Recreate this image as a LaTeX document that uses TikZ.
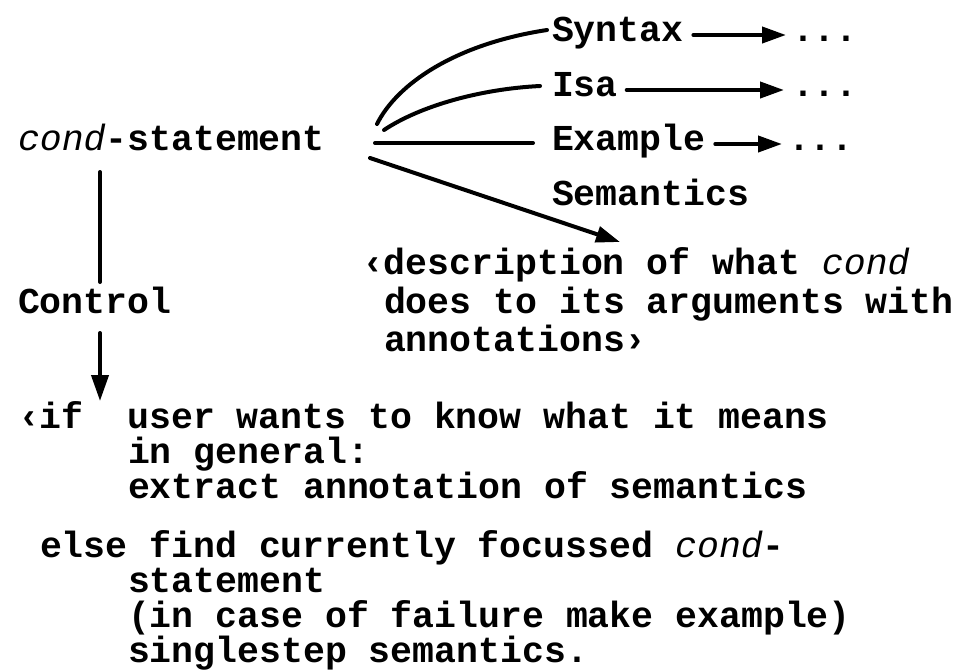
\documentclass[tikz,border=0pt]{standalone}
\usepackage{fontspec}
\setmainfont{Liberation Mono}
\usetikzlibrary{arrows.meta}

% typewriter text, placed by the left end of its baseline
\tikzset{
  txt/.style={anchor=base west, inner sep=0pt, outer sep=0pt,
              font=\fontsize{36.5}{38}\selectfont\bfseries},
  wire/.style={line width=4pt, line cap=round},
  wirearrow/.style={wire, -{Triangle[length=24pt,width=16pt]}},
}
\newcommand{\condword}{{\mdseries\itshape cond}}

\begin{document}
\begin{tikzpicture}[x=1pt,y=-1pt]
\useasboundingbox (0,0) rectangle (953,670);
\fill[white] (0,0) rectangle (953,670);

% left column
\node[txt] (cond) at (18,150) {\condword-statement};
\node[txt] (ctrl) at (18,313) {Control};

% branches of the statement
\node[txt] (syn) at (552,41)  {Syntax};
\node[txt] (isa) at (552,96)  {Isa};
\node[txt] (ex)  at (552,150) {Example};
\node[txt] (sem) at (552,205) {Semantics};
\node[txt] (d1)  at (792,41)  {...};
\node[txt] (d2)  at (792,96)  {...};
\node[txt] (d3)  at (788,150) {...};

% semantics description
\node[txt] (desc)  at (362,274) {‹description of what \condword};
\node[txt] (desc2) at (384,313) {does to its arguments with};
\node[txt] (desc3) at (384,351) {annotations›};

% control description
\node[txt] (ifl)  at (18,428)  {‹if\ \ user wants to know what it means};
\node[txt] (ifl2) at (128,463) {in general:};
\node[txt] (ifl3) at (128,498) {extract annotation of semantics};
\node[txt] (els)  at (40,557)  {else find currently focussed \condword-};
\node[txt] (els2) at (128,592) {statement};
\node[txt] (els3) at (128,627) {(in case of failure make example)};
\node[txt] (els4) at (128,662) {singlestep semantics.};

% fan-out from the statement
\draw[wire] ([shift={(359,-26)}]cond.base west)
  .. controls +(20,-40) and +(-92,14) .. ([shift={(-5,-11)}]syn.base west);
\draw[wire] ([shift={(366,-20)}]cond.base west)
  .. controls +(36,-24) and +(-60,3) .. ([shift={(-12,-10)}]isa.base west);
\draw[wire] ([shift={(357,-7)}]cond.base west) -- ([shift={(-19,-7)}]ex.base west);
\draw[wirearrow] ([shift={(352,8)}]cond.base west) -- ([shift={(258,-32)}]desc.base west);

% arrows to the elided parts
\draw[wirearrow] ([shift={(10,-6)}]syn.base east) -- ([shift={(-6,-6)}]d1.base west);
\draw[wirearrow] ([shift={(9,-6)}]isa.base east) -- ([shift={(-8,-6)}]d2.base west);
\draw[wirearrow] ([shift={(10,-6)}]ex.base east) -- ([shift={(-6,-6)}]d3.base west);

% vertical chain on the left
\draw[wire] ([shift={(82,22)}]cond.base west) -- ([shift={(82,-31)}]ctrl.base west);
\draw[wire, -{Triangle[length=26pt,width=17pt]}] ([shift={(82,20)}]ctrl.base west) -- ([shift={(82,-27)}]ifl.base west);
\end{tikzpicture}
\end{document}
